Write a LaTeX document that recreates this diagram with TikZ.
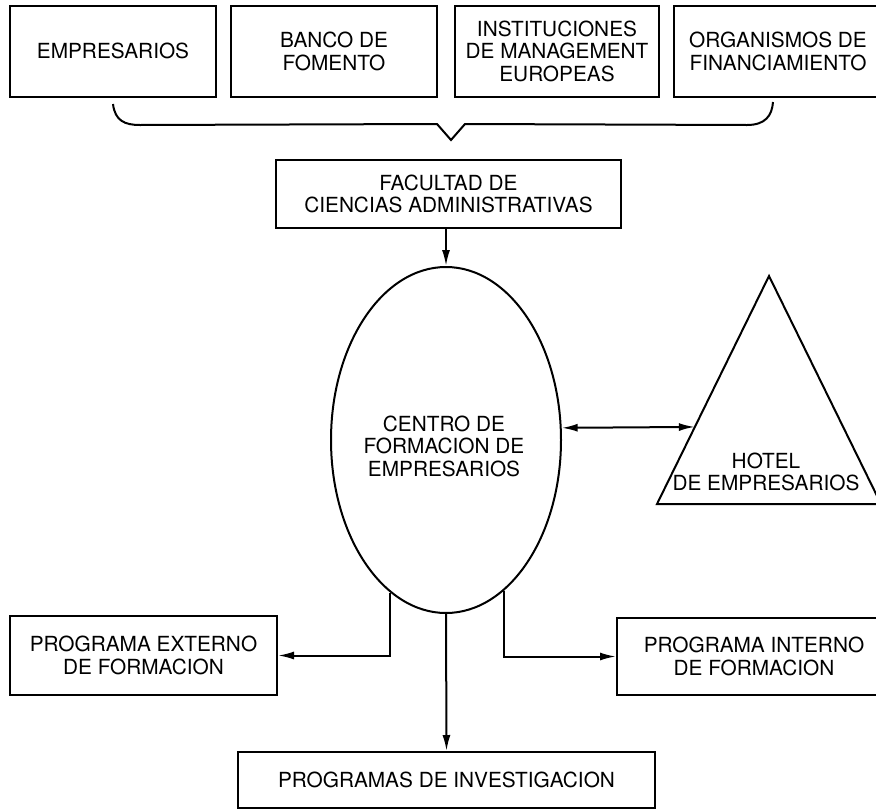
\documentclass[tikz,border=0pt]{standalone}
\usepackage{fontspec}
\setmainfont{TeX Gyre Heros}
\usetikzlibrary{shapes.geometric,arrows.meta,calc}
\tikzset{
  lbl/.style={font=\fontsize{20.8}{22.5}\selectfont, align=center, inner sep=0pt},
  box/.style={lbl, draw, line width=2pt, rectangle},
  oval/.style={lbl, draw, line width=2pt, ellipse},
  line/.style={line width=2pt, line join=miter},
  tip/.style={},
  conn/.style={line width=2pt, -{Latex[length=16pt,width=8pt]}},
  dconn/.style={line width=2pt, {Latex[length=16pt,width=8pt]}-{Latex[length=16pt,width=8pt]}}
}
\begin{document}
\begin{tikzpicture}[x=1pt,y=-1pt]
\useasboundingbox (0,0) rectangle (876,809);
\clip (0,0) rectangle (876,809);
\fill[white] (0,0) rectangle (876,809);

% top row
\node[box,minimum width=206pt,minimum height=90.5pt] (emp) at (113,51.25) {EMPRESARIOS};
\node[box,minimum width=206pt,minimum height=90.5pt] (banco) at (334,51.25) {BANCO DE\\FOMENTO};
\node[box,minimum width=204pt,minimum height=90.5pt] (inst) at (557,51.25) {INSTITUCIONES\\DE MANAGEMENT\\EUROPEAS};
\node[box,minimum width=208pt,minimum height=90.5pt] (org) at (778,51.25) {ORGANISMOS DE\\FINANCIAMIENTO};

% brace
\coordinate (bra) at ($(emp.south)+(0,6.5)$);
\coordinate (brb) at ($(org.south)+(-5,4.5)$);
\draw[line] (bra) .. controls ($(bra)+(2,17)$) and ($(bra)+(12,21)$) .. ($(bra)+(27,21)$)
  -- (437,124) -- (451,140) -- (465,124) -- ($(brb)+(-26,23)$)
  .. controls ($(brb)+(-8,23)$) and ($(brb)+(-1,14)$) .. (brb);

% faculty
\node[box,minimum width=345pt,minimum height=68pt] (fac) at (448.5,194) {FACULTAD DE\\CIENCIAS ADMINISTRATIVAS};

% centre
\node[oval,minimum width=230pt,minimum height=346pt] (centro) at (446,440) {};
\node[lbl] (centrotxt) at (444,446) {CENTRO DE\\FORMACION DE\\EMPRESARIOS};

% hotel triangle
\coordinate (apex) at (769,276);
\coordinate (tbl) at (657,504);
\coordinate (tbr) at (881,504);
\draw[line] (apex) -- (tbl) -- (tbr) -- cycle;
\node[lbl] (hotel) at (766,472) {HOTEL\\DE EMPRESARIOS};
\coordinate (hl) at ($(apex)!0.662!(tbl)$);

% bottom boxes
\node[box,minimum width=267pt,minimum height=79pt] (ext) at (143.5,655.5) {PROGRAMA EXTERNO\\DE FORMACION};
\node[box,minimum width=274pt,minimum height=77pt] (int) at (754,656.5) {PROGRAMA INTERNO\\DE FORMACION};
\node[box,minimum width=417pt,minimum height=56pt] (inv) at (446.5,780) {PROGRAMAS DE INVESTIGACION};

% connectors
\draw[conn] (centro.north |- fac.south) -- (centro.north);
\draw[dconn] (centro.6.5) -- (hl);
\draw[conn] (centro.250) |- (ext.east);
\draw[conn] (centro.291) |- (int.west);
\draw[conn] (centro.south) -- (inv.north);
\end{tikzpicture}
\end{document}
